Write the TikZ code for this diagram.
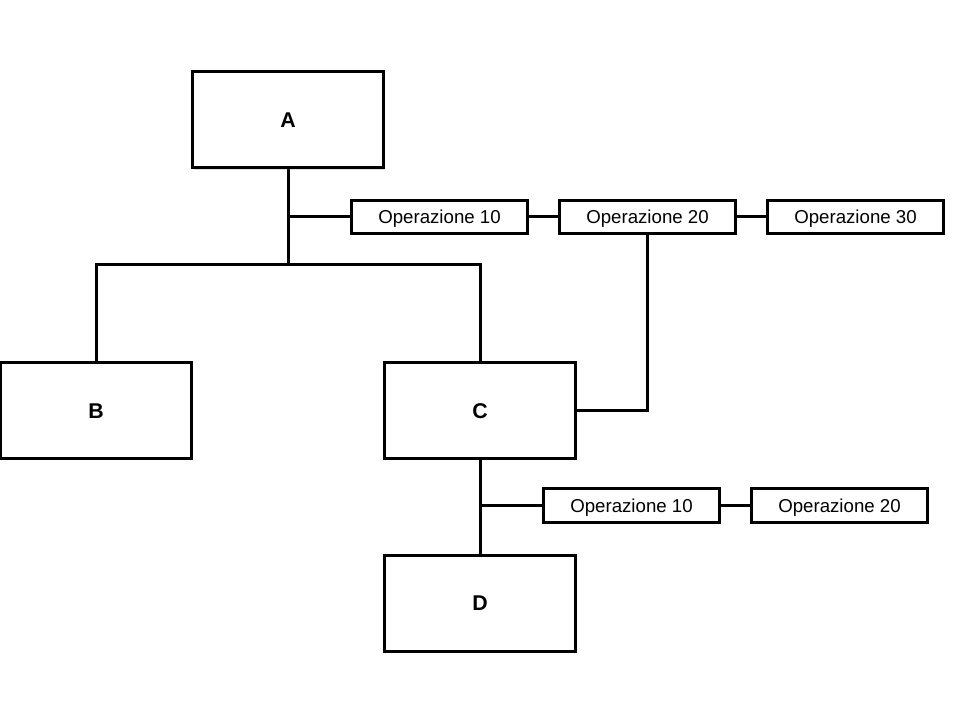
\documentclass[tikz,border=0pt]{standalone}
\usepackage{fontspec}
\setmainfont{Liberation Sans}
\usetikzlibrary{shadows,backgrounds}
\begin{document}
\begin{tikzpicture}[x=0.75pt,y=-0.75pt,
  bigbox/.style={draw=black,fill=white,line width=2.25pt,minimum width=143.5pt,minimum height=72pt,inner sep=0pt,
    text height=11.5pt,text depth=0pt,font=\fontsize{16}{18}\selectfont\bfseries,
    drop shadow={shadow xshift=1.2pt,shadow yshift=-1.2pt,opacity=0.25}},
  opbox/.style={draw=black,fill=white,line width=2.25pt,minimum width=132pt,minimum height=25pt,inner sep=0pt,
    text height=10pt,text depth=0pt,font=\fontsize{14}{16}\selectfont,
    drop shadow={shadow xshift=1.2pt,shadow yshift=-1.2pt,opacity=0.25}},
  conn/.style={line width=2.25pt,line cap=rect}]
\useasboundingbox (0,0) rectangle (960,720);
% boxes
\node[bigbox] (A) at (288,120) {A};
\node[bigbox] (B) at (96,410.5) {B};
\node[bigbox] (C) at (480,410.5) {C};
\node[bigbox] (D) at (480,603) {D};
\node[opbox] (o1) at (439.5,217) {Operazione 10};
\node[opbox] (o2) at (647.5,217) {Operazione 20};
\node[opbox] (o3) at (855.5,217) {Operazione 30};
\node[opbox] (p1) at (631.5,505.5) {Operazione 10};
\node[opbox] (p2) at (839.5,505.5) {Operazione 20};
% junction coordinates
\coordinate (jA) at (288,265);
\coordinate (jB) at (96,265);
\coordinate (jC) at (480,265);
\coordinate (bA) at (288,217);
\coordinate (bC) at (480,505.5);
% connectors
\begin{scope}[on background layer]
\fill[white] (0,0) rectangle (960,720);
\draw[conn] (A.south) -- (jA);
\draw[conn] (jB) -- (jC);
\draw[conn] (jB) -- (B.north);
\draw[conn] (jC) -- (C.north);
\draw[conn] (bA) -- (o1.west);
\draw[conn] (o1.east) -- (o2.west);
\draw[conn] (o2.east) -- (o3.west);
\draw[conn] (o2.south) |- (C.east);
\draw[conn] (C.south) -- (D.north);
\draw[conn] (bC) -- (p1.west);
\draw[conn] (p1.east) -- (p2.west);
\end{scope}
\end{tikzpicture}
\end{document}
